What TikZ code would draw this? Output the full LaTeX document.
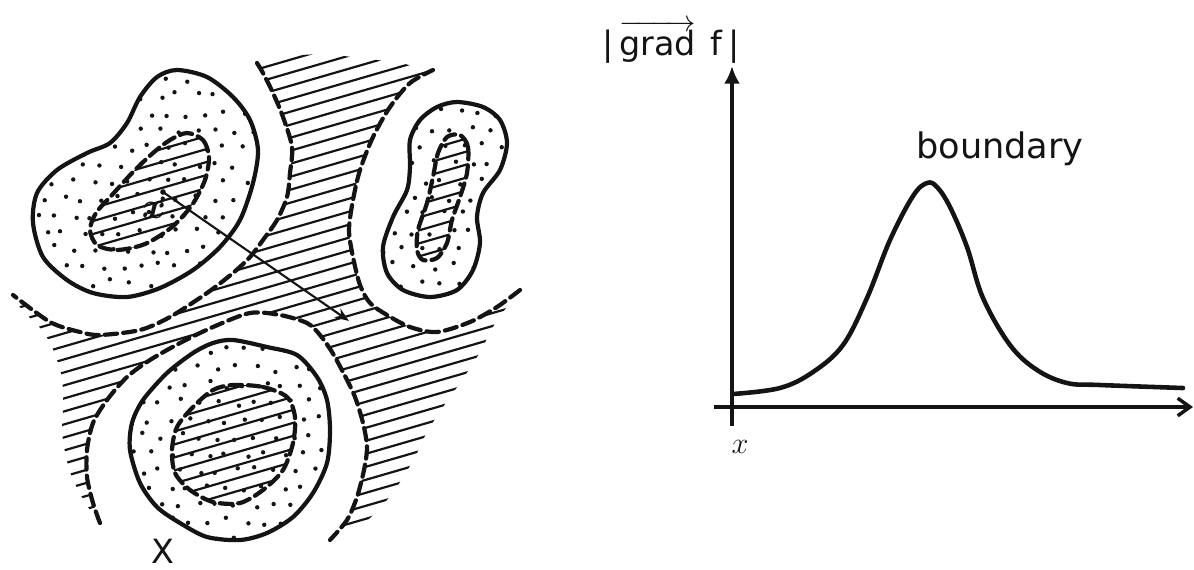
\documentclass[tikz,border=0pt]{standalone}
\usepackage{fontspec}
\setmainfont{DejaVu Sans}
\usetikzlibrary{arrows.meta}
\definecolor{ink}{HTML}{141414}
\tikzset{
  outline/.style={draw=ink, line width=2.4pt, line join=round},
  dashline/.style={draw=ink, line width=2.4pt, dash pattern=on 7pt off 3.5pt, line cap=round},
  hatchline/.style={draw=ink, line width=1.25pt},
  stipple/.style={fill=ink},
  thinarrow/.style={draw=ink, line width=1.2pt, -{Stealth[length=8pt,width=6pt]}},
  axis/.style={draw=ink, line width=2pt},
  curve/.style={draw=ink, line width=2.6pt, line join=round, line cap=round},
  textlabel/.style={text=ink, inner sep=0pt}
}
\newcommand{\hatchlines}{\foreach \hy in {40,53,...,760} \draw[hatchline] (0,\hy) -- (620,\hy-180);}
\newcommand{\stipplefill}[4]{%
  \foreach \i in {0,...,#3}{
    \foreach \j in {0,...,#4}{
      \pgfmathsetmacro{\stipx}{#1+\i*19+mod(\j,2)*9.5+4*rand}
      \pgfmathsetmacro{\stipy}{#2+\j*17+4*rand}
      \fill[stipple] (\stipx,\stipy) circle[radius=1.25pt];
    }
  }}

\begin{document}
\begin{tikzpicture}[x=0.02cm, y=-0.02cm]
  \useasboundingbox (0,0) rectangle (1194,569);
  \pgfmathsetseed{3}

  % the set X: hatched region between the blobs
  \begin{scope}
    \clip plot[smooth cycle] coordinates {(257,63) (263,73) (273,93) (283,117) (292,147) (290,173) (287,197) (277,220) (263,240) (250,257) (233,273) (207,293) (170,317) (140,330) (100,335) (80,332) (50,322) (13,295)
      (20,307) (30,318) (42,330) (50,343) (56,357) (61,373) (63,390) (63,410) (62,430) (65,452) (70,472) (78,490) (88,507) (100,523)
      (93,503) (87,477) (87,450) (93,423) (107,400) (127,377) (150,360) (180,343) (213,327) (250,313) (280,315) (307,323) (320,335) (332,352) (344,374) (355,397) (363,423) (367,447) (364,470) (357,497) (347,520) (330,540)
      (357,528) (370,518) (383,505) (400,482) (415,457) (427,432) (443,407) (462,380) (480,352) (497,320) (520,290)
      (497,307) (470,322) (437,332) (410,327) (387,315) (370,303) (360,285) (353,257) (349,230) (353,200) (360,170) (373,137) (390,107) (410,83) (433,70)
      (417,67) (400,63) (377,60) (353,57) (330,55) (303,55)};
    \hatchlines
  \end{scope}
  \draw[dashline] plot[smooth] coordinates {(257,63) (263,73) (273,93) (283,117) (292,147) (290,173) (287,197) (277,220) (263,240) (250,257) (233,273) (207,293) (170,317) (140,330) (100,335) (80,332) (50,322) (13,295)};
  \draw[dashline] plot[smooth] coordinates {(100,523) (93,503) (87,477) (87,450) (93,423) (107,400) (127,377) (150,360) (180,343) (213,327) (250,313) (280,315) (307,323) (320,335) (332,352) (344,374) (355,397) (363,423) (367,447) (364,470) (357,497) (347,520) (330,540)};
  \draw[dashline] plot[smooth] coordinates {(520,290) (497,307) (470,322) (437,332) (410,327) (387,315) (370,303) (360,285) (353,257) (349,230) (353,200) (360,170) (373,137) (390,107) (410,83) (433,70)};

  % blob A
  \begin{scope}
    \clip plot[smooth cycle] coordinates {(177,70) (207,77) (233,97) (250,120) (258,150) (253,183) (240,220) (220,247) (193,270) (160,288) (127,297) (93,293) (67,280) (43,257) (33,223) (37,193) (57,170) (87,153) (110,143) (127,123) (140,97) (157,77)};
    \stipplefill{26}{62}{13}{14}
  \end{scope}
  \begin{scope}
    \clip plot[smooth cycle] coordinates {(187,133) (203,140) (209,157) (205,180) (192,205) (172,227) (145,244) (117,250) (97,245) (90,230) (96,213) (112,195) (133,172) (153,153) (170,140)};
    \hatchlines
  \end{scope}
  \draw[outline] plot[smooth cycle] coordinates {(177,70) (207,77) (233,97) (250,120) (258,150) (253,183) (240,220) (220,247) (193,270) (160,288) (127,297) (93,293) (67,280) (43,257) (33,223) (37,193) (57,170) (87,153) (110,143) (127,123) (140,97) (157,77)};
  \draw[dashline] plot[smooth cycle] coordinates {(187,133) (203,140) (209,157) (205,180) (192,205) (172,227) (145,244) (117,250) (97,245) (90,230) (96,213) (112,195) (133,172) (153,153) (170,140)};

  % blob B
  \begin{scope}
    \clip plot[smooth cycle] coordinates {(457,102) (483,107) (500,120) (507,143) (500,170) (483,193) (477,217) (480,243) (473,270) (457,290) (430,297) (403,290) (387,273) (383,247) (393,217) (407,190) (410,167) (410,140) (420,120) (437,107)};
    \stipplefill{376}{96}{7}{12}
  \end{scope}
  \begin{scope}
    \clip plot[smooth cycle] coordinates {(460,135) (468,147) (467,173) (460,197) (452,220) (447,243) (437,258) (423,260) (417,250) (418,230) (427,203) (433,177) (438,153) (447,137)};
    \hatchlines
  \end{scope}
  \draw[outline] plot[smooth cycle] coordinates {(457,102) (483,107) (500,120) (507,143) (500,170) (483,193) (477,217) (480,243) (473,270) (457,290) (430,297) (403,290) (387,273) (383,247) (393,217) (407,190) (410,167) (410,140) (420,120) (437,107)};
  \draw[dashline] plot[smooth cycle] coordinates {(460,135) (468,147) (467,173) (460,197) (452,220) (447,243) (437,258) (423,260) (417,250) (418,230) (427,203) (433,177) (438,153) (447,137)};

  % blob C
  \begin{scope}
    \clip plot[smooth cycle] coordinates {(233,340) (267,347) (297,355) (317,377) (327,400) (330,430) (327,463) (313,493) (293,517) (267,533) (240,540) (207,537) (180,523) (157,507) (140,483) (130,450) (132,423) (143,400) (167,373) (193,353) (213,343)};
    \stipplefill{122}{334}{12}{12}
  \end{scope}
  \begin{scope}
    \clip plot[smooth cycle] coordinates {(233,385) (263,387) (287,397) (295,417) (293,443) (283,470) (263,490) (240,503) (213,502) (190,490) (175,473) (172,450) (177,427) (193,407) (213,390)};
    \hatchlines
  \end{scope}
  \draw[outline] plot[smooth cycle] coordinates {(233,340) (267,347) (297,355) (317,377) (327,400) (330,430) (327,463) (313,493) (293,517) (267,533) (240,540) (207,537) (180,523) (157,507) (140,483) (130,450) (132,423) (143,400) (167,373) (193,353) (213,343)};
  \draw[dashline] plot[smooth cycle] coordinates {(233,385) (263,387) (287,397) (295,417) (293,443) (283,470) (263,490) (240,503) (213,502) (190,490) (175,473) (172,450) (177,427) (193,407) (213,390)};

  % path from x out to the boundary
  \coordinate (xpt) at (163,192);
  \coordinate (bpt) at (349,321);
  \fill[ink] (xpt) circle[radius=1.6pt];
  \draw[thinarrow] (xpt) -- (bpt);
  \node[textlabel, font=\fontsize{21}{24}\selectfont\boldmath] (xin) at (154,210) {$x$};
  \node[textlabel, font=\fontsize{19}{22}\selectfont] (setX) at (163,551) {X};

  % graph of the gradient norm
  \coordinate (origin) at (732,407);
  \coordinate (ytop) at (732,66);
  \coordinate (ybot) at (732,426);
  \coordinate (xleft) at (714,407);
  \coordinate (xright) at (1193,407);
  \draw[axis, -{Latex[length=10pt,width=9pt]}] (ybot) -- (ytop);
  \draw[axis, -{Straight Barb[length=7pt,width=10pt]}] (xleft) -- (xright);
  \draw[curve] plot[smooth, tension=0.6] coordinates {(733,394) (780,388) (813,372) (843,345) (867,298) (890,240) (913,196) (927,183) (937,187) (950,207) (967,247) (983,298) (1010,345) (1037,370) (1067,383) (1100,385) (1183,388)};
  \node[textlabel, font=\fontsize{17}{20}\selectfont] (xaxis) at (740,447) {$x$};
  \node[textlabel, font=\fontsize{20}{24}\selectfont, anchor=base] (bnd) at (1000,158) {boundary};
  \node[textlabel, font=\fontsize{19}{23}\selectfont, anchor=base] (gradf) at (671,55) {|\,$\overrightarrow{\mbox{grad}}$\;\,f\,|};
\end{tikzpicture}
\end{document}
